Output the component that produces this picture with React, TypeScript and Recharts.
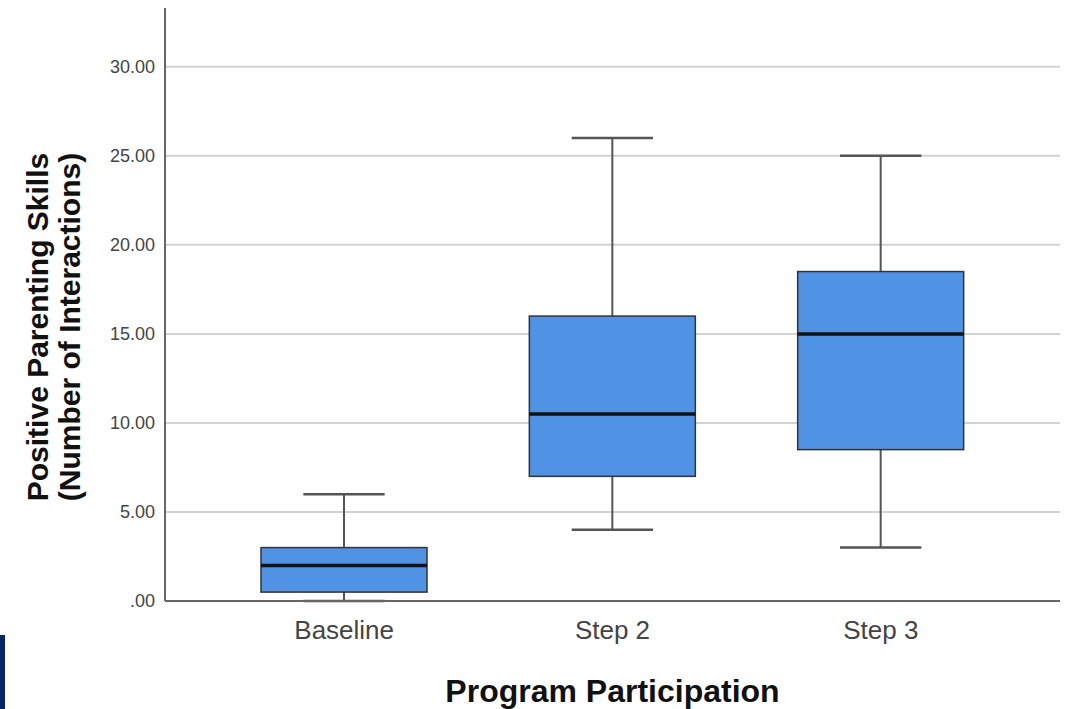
import { ComposedChart, Bar, XAxis, YAxis, CartesianGrid } from "recharts";

const groups = ["Baseline", "Step 2", "Step 3"];
const mins = [0, 4, 3];
const q1s = [0.5, 7, 8.5];
const medians = [2, 10.5, 15];
const q3s = [3, 16, 18.5];
const maxs = [6, 26, 25];
const yTicks = [0, 5, 10, 15, 20, 25, 30];

const data = groups.map((name, i) => ({
  name,
  range: [mins[i], maxs[i]],
  min: mins[i],
  q1: q1s[i],
  median: medians[i],
  q3: q3s[i],
  max: maxs[i],
}));

const fmt = (v: number) => (v === 0 ? ".00" : v.toFixed(2));

// draws one box and its whiskers inside the bar rect that recharts gives us
function BoxShape(props: any) {
  const { x, y, width, height, payload } = props;
  const top = Math.min(y, y + height);
  const h = Math.abs(height);
  const span = payload.max - payload.min;
  const toPx = (v: number) => top + (h * (payload.max - v)) / span;
  const cx = x + width / 2;
  const cap = width * 0.245;
  const yMax = toPx(payload.max);
  const yMin = toPx(payload.min);
  const yQ3 = toPx(payload.q3);
  const yQ1 = toPx(payload.q1);
  const yMed = toPx(payload.median);
  return (
    <g>
      <line x1={cx} x2={cx} y1={yMax} y2={yQ3} stroke="#555" strokeWidth={2} />
      <line x1={cx} x2={cx} y1={yQ1} y2={yMin} stroke="#555" strokeWidth={2} />
      <line x1={cx - cap} x2={cx + cap} y1={yMax} y2={yMax} stroke="#555" strokeWidth={2.5} />
      <line x1={cx - cap} x2={cx + cap} y1={yMin} y2={yMin} stroke="#555" strokeWidth={2.5} />
      <rect x={x} y={yQ3} width={width} height={yQ1 - yQ3} fill="#5092e3" stroke="#333" strokeWidth={1.5} />
      <line x1={x} x2={x + width} y1={yMed} y2={yMed} stroke="#111" strokeWidth={3.5} />
    </g>
  );
}

export default function App() {
  return (
    <div style={{ position: "absolute", left: 0, top: 0, width: 1071, height: 709, background: "#fff", fontFamily: "'Liberation Sans', Arial, sans-serif" }}>
      <ComposedChart
        width={1071}
        height={709}
        data={data}
        margin={{ top: 8, right: 11, left: 0, bottom: 0 }}
      >
        <CartesianGrid
          horizontal
          vertical={false}
          horizontalValues={yTicks.filter((v) => v > 0)}
          stroke="#d2d2d2"
          strokeWidth={2}
        />
        <XAxis
          dataKey="name"
          height={108}
          padding={{ left: 45, right: 45 }}
          tickLine={false}
          tickSize={8}
          tickMargin={12}
          axisLine={{ stroke: "#666", strokeWidth: 2 }}
          tick={{ fontSize: 26, fill: "#444", fontFamily: "'Liberation Sans', Arial, sans-serif" }}
          label={{
            content: (p: any) => {
              const vb = p.viewBox || {};
              return (
                <text
                  x={vb.x + vb.width / 2}
                  y={702}
                  textAnchor="middle"
                  fontSize={32}
                  fontWeight="bold"
                  fill="#111"
                  fontFamily="'Liberation Sans', Arial, sans-serif"
                >
                  Program Participation
                </text>
              );
            },
          }}
        />
        <YAxis
          width={165}
          type="number"
          domain={[0, 33.3]}
          ticks={yTicks}
          tickFormatter={fmt}
          tickLine={false}
          tickSize={8}
          tickMargin={2}
          axisLine={{ stroke: "#666", strokeWidth: 2 }}
          tick={{ fontSize: 18, fill: "#444", fontFamily: "'Liberation Sans', Arial, sans-serif" }}
          label={{
            content: () => (
              <g fontFamily="'Liberation Sans', Arial, sans-serif" fontWeight="bold" fontSize={30} fill="#111">
                <text x={48} y={327} textAnchor="middle" transform="rotate(-90 48 327)">
                  Positive Parenting Skills
                </text>
                <text x={80} y={327} textAnchor="middle" transform="rotate(-90 80 327)">
                  (Number of Interactions)
                </text>
              </g>
            ),
          }}
        />
        <Bar dataKey="range" barSize={166} shape={<BoxShape />} isAnimationActive={false} />
      </ComposedChart>
      <div style={{ position: "absolute", left: 0, top: 635, width: 5, height: 74, background: "#0a2463" }} />
    </div>
  );
}
